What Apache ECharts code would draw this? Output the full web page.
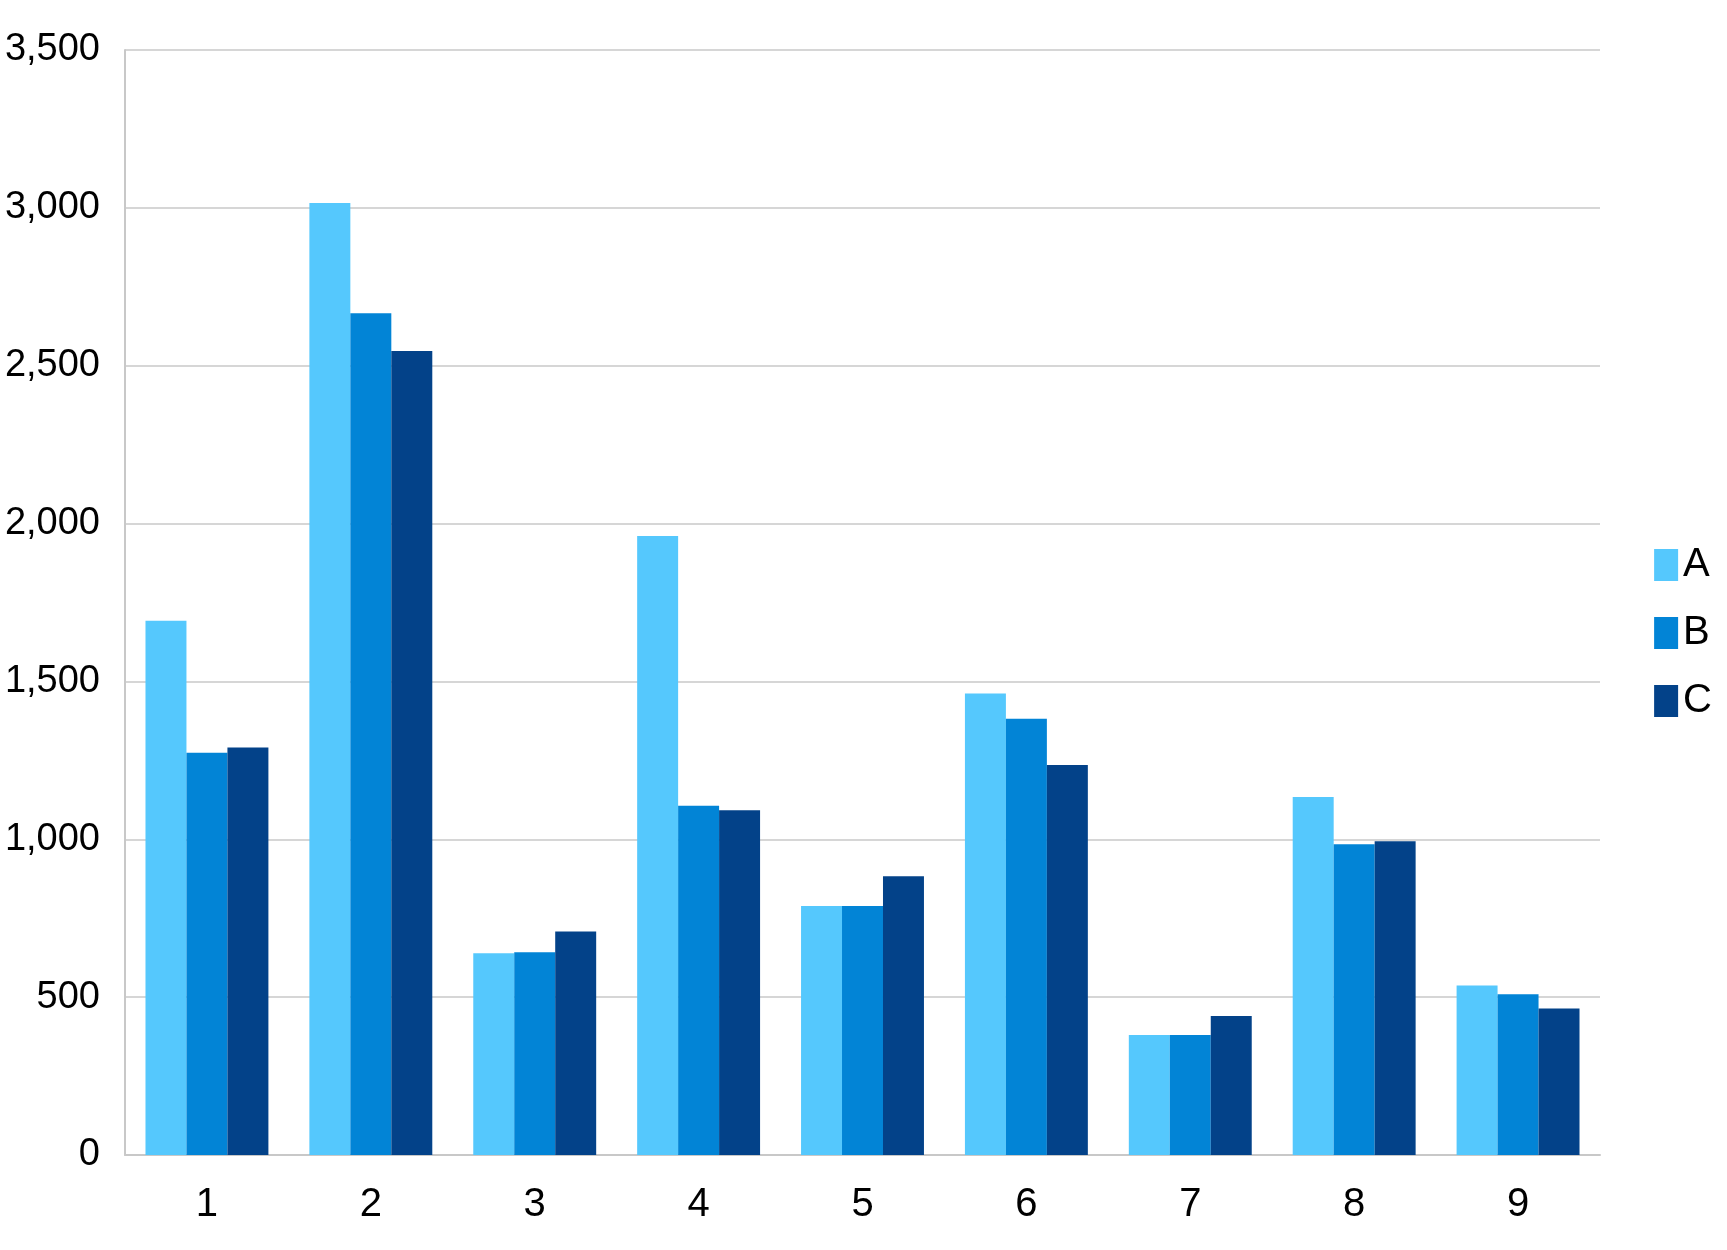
<!DOCTYPE html>
<html>
<head>
<meta charset="utf-8">
<script src="https://cdn.jsdelivr.net/npm/echarts@6/dist/echarts.min.js"></script>
<style>html,body{margin:0;background:#fff}#c{width:1727px;height:1250px}</style>
</head>
<body>
<div id="c"></div>
<script>
var categories = ['1','2','3','4','5','6','7','8','9'];
var seriesA = [1692, 3015, 639, 1961, 789, 1462, 380, 1134, 537];
var seriesB = [1274, 2666, 642, 1106, 789, 1382, 380, 984, 509];
var seriesC = [1291, 2547, 708, 1092, 883, 1235, 440, 994, 464];

var chart = echarts.init(document.getElementById('c'));
var font = 'Liberation Sans';
function bar(name, data, color) {
    return { name: name, type: 'bar', data: data, barGap: 0, barCategoryGap: '25%',
             itemStyle: { color: color } };
}
chart.setOption({
    animation: false,
    grid: { left: 125, right: 127, top: 50, bottom: 95 },
    legend: {
        orient: 'vertical', right: 10, top: 540, itemGap: 28,
        itemWidth: 24, itemHeight: 32, icon: 'rect',
        textStyle: { fontFamily: font, fontSize: 40, color: '#000' },
        data: ['A', 'B', 'C']
    },
    xAxis: {
        type: 'category', data: categories,
        axisLine: { lineStyle: { color: '#c8c8c8', width: 2 } },
        axisTick: { length: 20, lineStyle: { color: '#c8c8c8', width: 2 } },
        axisLabel: { fontFamily: font, fontSize: 40, color: '#000', margin: 30 }
    },
    yAxis: {
        type: 'value', min: 0, max: 3500, interval: 500,
        axisLine: { show: true, lineStyle: { color: '#c8c8c8', width: 2 } },
        splitLine: { lineStyle: { color: '#c8c8c8', width: 1.5 } },
        axisLabel: { fontFamily: font, fontSize: 38, color: '#000', margin: 25 }
    },
    series: [
        bar('A', seriesA, '#55c8fd'),
        bar('B', seriesB, '#0284d6'),
        bar('C', seriesC, '#034289')
    ]
});
</script>
</body>
</html>
